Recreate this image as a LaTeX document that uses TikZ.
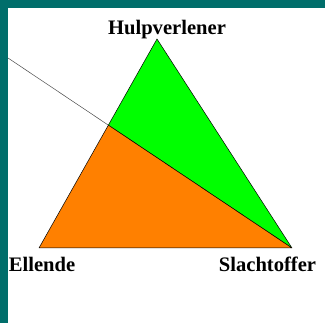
\documentclass[tikz,border=0pt]{standalone}
\usepackage{fontspec}
\setmainfont{Liberation Serif}
\usepackage{xcolor}
\usepackage{tikz}
\definecolor{mTeal}{HTML}{006E6B}
\definecolor{mGreen}{HTML}{00FF00}
\definecolor{mOrange}{HTML}{FF8000}
\usetikzlibrary{positioning}

\begin{document}
\begin{tikzpicture}[x=1pt, y=-1pt,
  lbl/.style={font=\fontsize{20.6}{24}\selectfont\bfseries, inner sep=0pt, anchor=base},
  area/.style={draw=black, line width=0.5pt, line join=round}]
\useasboundingbox (0,0) rectangle (325,323);
% frame
\fill[white] (0,0) rectangle (325,323);
\fill[mTeal] (0,0) rectangle (325,8);
\fill[mTeal] (0,0) rectangle (8,323);
% corners
\coordinate (hulp) at (157,39);
\coordinate (ellende) at (39,248);
\coordinate (slacht) at (292,248);
\coordinate (start) at (8,58);
\coordinate (cut) at (intersection of start--slacht and ellende--hulp);
% areas
\filldraw[area, fill=mGreen] (cut) -- (hulp) -- (slacht) -- cycle;
\filldraw[area, fill=mOrange] (ellende) -- (cut) -- (slacht) -- cycle;
\draw[black!70, line width=0.5pt] (start) -- (cut);
% labels
\node[lbl] (lhulp) at (167,35) {Hulpverlener};
\node[lbl] (lellende) at (42,272) {Ellende};
\node[lbl] (lslacht) at (267.5,272) {Slachtoffer};
\end{tikzpicture}
\end{document}
